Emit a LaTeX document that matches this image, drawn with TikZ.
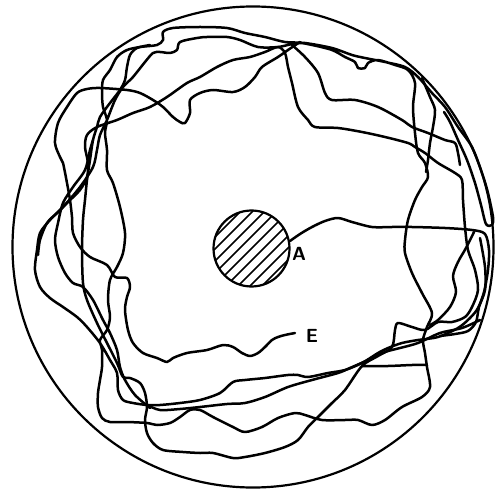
\documentclass[tikz,border=0pt]{standalone}
\begin{document}
\begin{tikzpicture}[x=1pt,y=-1pt,
  trail/.style={line width=2.5pt,line join=round,line cap=round},
  lbl/.style={font=\sffamily\bfseries\fontsize{19}{19}\selectfont,inner sep=0pt}]
\useasboundingbox (0,0) rectangle (495,489);
% outer circle
\draw[line width=2.2pt] (253,247) circle (240.5);
% hatched obstacle
\begin{scope}
\clip (251.5,248.5) circle (38);
\foreach \k in {-6,...,6}
  \draw[line width=1.5pt] (251.5+\k*6-45,248.5+\k*6+45) -- (251.5+\k*6+45,248.5+\k*6-45);
\end{scope}
\draw[line width=2.2pt] (251.5,248.5) circle (38);
% labels
\node[lbl] (A) at (299,254) {A};
\node[lbl] (E) at (312,336) {E};
% stroke 1 (from A)
\draw[trail] plot[smooth,tension=0.5] coordinates {
(290,241) (300,234) (312,227) (325,221) (338,218) (352,222) (372,227) (392,227) (412,227) (445,228) (472,230) (485,234) (489,250) (488,270) (484,292) (478,308) (470,318) (458,328) (438,337) (418,340) (402,343) (388,348) (378,353) (362,363) (345,370) (328,373) (308,377) (298,375) (288,375) (265,378) (245,380) (233,382) (220,393) (200,400) (180,403) (160,405) (147,405) (133,403) (123,400) (118,390) (117,373) (110,360) (100,343) (87,327) (77,317) (63,307) (50,298) (40,287) (35,270) (37,250) (40,233) (50,220) (63,207) (80,187) (93,167) (97,150) (100,135) (107,120) (115,100) (123,87) (133,77) (145,62) (153,53) (160,52) (170,53) (177,50) (180,42) (197,38) (207,37) (227,37) (240,40) (258,47) (278,47) (298,43) (312,45) (332,50) (345,57) (355,62) (358,68) (365,68) (368,63) (378,60) (395,65) (408,70) (415,83) (413,107) (415,133) (418,153) (425,163) (428,177) (422,187) (415,200) (408,220) (405,240) (405,253) (412,273) (422,293) (432,313) (427,327) (423,340) (425,353) (427,367) (430,387) (422,397) (402,407) (385,420) (372,425) (358,420) (345,420) (322,420) (305,415) (295,413) (278,418) (262,427) (245,432) (233,427) (213,417) (200,410) (190,410) (180,417) (170,423) (157,425) (147,423) (127,422) (110,422) (102,418) (98,407) (98,393) (100,380) (102,367) (102,350) (100,340) (107,330) (110,317) (108,300) (110,280) (117,267) (123,253) (125,233) (120,207) (113,183) (107,170) (107,150) (105,133) (107,120) (103,107) (102,93) (103,80) (110,70) (117,57) (127,50) (140,47) (157,45) (163,40) (163,32) (173,28) (200,27) (227,28) (245,33) (265,37) (285,42) (305,43) (332,48) (352,55) (365,58) (385,62) (405,67) (418,77) (432,93) (445,107) (458,127) (472,147) (482,173) (488,193) (493,217) (492,225) (486,224) (481,205) (475,183) (467,160) (458,140) (450,122) (444,112)};
% stroke 2
\draw[trail] plot[smooth,tension=0.5] coordinates {
(38,255) (40,240) (47,223) (57,213) (67,203) (80,190) (87,177) (88,163) (85,147) (87,135) (97,127) (117,120) (133,113) (150,107) (167,97) (187,83) (200,77) (217,67) (233,60) (250,57) (265,52) (278,47) (285,53) (288,67) (292,83) (298,107) (308,120) (315,127) (338,128) (362,132) (385,137) (408,143) (415,147) (425,153) (438,163) (455,173) (462,180) (463,200) (465,227) (468,250) (475,270) (478,290) (472,307) (465,317) (452,322) (438,322) (425,330) (412,327) (398,323) (395,330) (392,347) (378,356) (362,366) (345,390) (332,403) (318,417) (308,427) (298,440) (285,447) (265,453) (245,457) (233,458) (213,453) (200,453) (183,452) (163,450) (153,443) (147,433) (145,420) (147,407) (145,393) (140,383) (130,378) (123,377) (117,363) (107,343) (97,323) (87,300) (83,283) (82,250) (83,220) (85,200) (87,180) (90,160) (93,140) (97,127) (100,117) (110,103) (120,90) (125,80) (127,67) (130,55) (137,48) (150,45)};
% stroke 3a
\draw[trail] plot[smooth,tension=0.5] coordinates {
(292,45) (305,57) (318,73) (325,93) (332,100) (355,100) (378,107) (402,120) (412,127) (428,133) (445,140) (455,143) (458,153) (460,165)};
% stroke 3b (ends at E)
\draw[trail] plot[smooth,tension=0.5] coordinates {
(300,42) (288,50) (278,57) (262,67) (255,77) (245,87) (233,92) (213,90) (200,93) (190,100) (190,113) (185,123) (180,122) (173,117) (163,107) (153,100) (140,93) (127,90) (100,88) (87,89) (77,93) (67,107) (58,123) (55,143) (60,157) (63,163) (67,183) (70,200) (72,217) (73,233) (80,247) (90,257) (107,265) (115,277) (127,278) (130,287) (127,297) (125,310) (128,330) (133,343) (143,353) (157,358) (167,362) (173,358) (187,353) (207,350) (223,345) (233,347) (242,353) (250,356) (258,353) (265,347) (272,340) (278,337) (285,335) (295,333)};
% stroke 4
\draw[trail] plot[smooth,tension=0.5] coordinates {
(93,140) (90,150) (85,170) (73,187) (63,203) (58,223) (55,240) (58,257) (65,273) (73,283) (83,287) (93,300) (103,320) (110,333) (117,350) (120,367) (125,380) (135,395) (150,408)};
% stroke 5
\draw[trail] plot[smooth,tension=0.5] coordinates {
(422,78) (430,97) (435,110) (433,127) (430,143) (428,160) (426,172)};
% stroke 6
\draw[trail] plot[smooth,tension=0.5] coordinates {
(362,366) (388,366) (412,365) (427,365)};
% stroke 7
\draw[trail] plot[smooth,tension=0.5] coordinates {
(474,232) (466,248) (458,262) (453,276) (456,292) (450,307) (438,320) (430,325)};
% stroke 8
\draw[trail] plot[smooth,tension=0.5] coordinates {
(480,320) (462,328) (440,333) (418,343) (400,348) (385,352) (368,360) (350,368) (338,373) (312,380) (288,387) (265,397) (245,403) (227,404) (200,407) (180,409) (160,410) (147,405)};
% stroke 9
\draw[trail] plot[smooth,tension=0.5] coordinates {
(480,238) (485,267) (485,290) (479,307) (476,322) (468,331) (455,334) (440,336)};
\end{tikzpicture}
\end{document}
